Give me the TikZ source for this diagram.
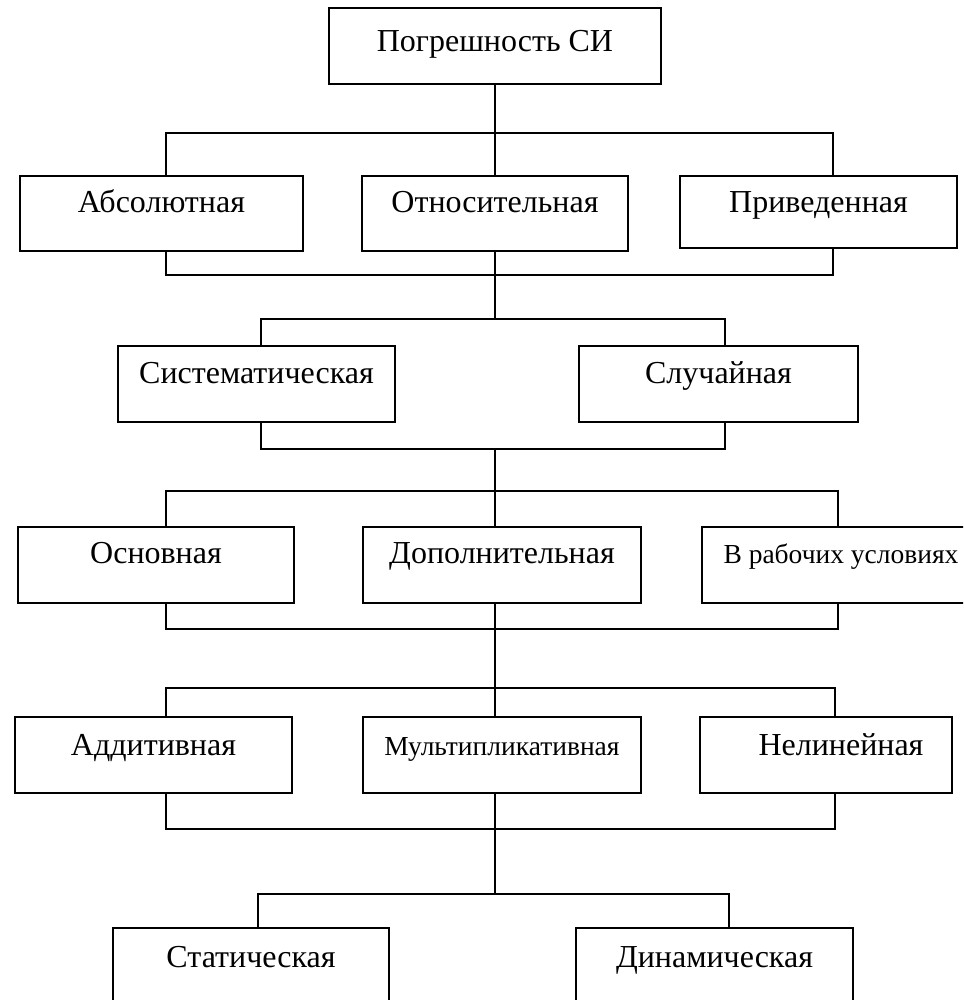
\documentclass[tikz,border=0pt]{standalone}
\usepackage{fontspec}
\setmainfont{Liberation Serif}
\begin{document}
\begin{tikzpicture}[x=1pt,y=-1pt,
  cbox/.style={draw, line width=1.6pt, inner sep=0pt, anchor=base,
    minimum width=#1, text height=37pt, text depth=38pt,
    font=\fontsize{32}{36}\selectfont},
  small/.style={font=\fontsize{27.5}{32}\selectfont},
  link/.style={line width=1.6pt}]
\useasboundingbox (0,0) rectangle (963,1000);
\clip (0,0) rectangle (963,1000);
\fill[white] (0,0) rectangle (963,1000);
% nodes
\node[cbox=332pt, text height=44pt, text depth=32pt] (top) at (495,52) {Погрешность СИ};
\node[cbox=283pt] (abs) at (161.5,213) {Абсолютная};
\node[cbox=266pt] (otn) at (495,213) {Относительная};
\node[cbox=277pt, text depth=35pt] (priv) at (818.5,213) {Приведенная};
\node[cbox=277pt, text depth=39pt] (sys) at (256.5,383) {Систематическая};
\node[cbox=279pt, text depth=39pt] (slu) at (718.5,383) {Случайная};
\node[cbox=276pt, text height=36pt, text depth=40pt] (osn) at (156,563) {Основная};
\node[cbox=278pt, text height=36pt, text depth=40pt] (dop) at (502,563) {Дополнительная};
\node[cbox=278pt, small, text height=36pt, text depth=40pt] (vrab) at (841,563) {В рабочих условиях};
\node[cbox=277pt, text height=38pt, text depth=38pt] (add) at (153.5,755) {Аддитивная};
\node[cbox=278pt, small, text height=38pt, text depth=38pt] (mult) at (502,755) {Мультипликативная};
\node[cbox=252pt, text height=38pt, text depth=38pt] (nel) at (826,755) {\hspace*{30pt}Нелинейная};
\node[cbox=276pt, text height=39pt, text depth=60pt] (stat) at (251,967) {Статическая};
\node[cbox=277pt, text height=39pt, text depth=60pt] (din) at (714.5,967) {Динамическая};
% bus coordinates
\coordinate (t1L) at (166,133); \coordinate (t1R) at (833,133);
\coordinate (b1L) at (166,275); \coordinate (b1R) at (833,275);
\coordinate (t2L) at (261,319); \coordinate (t2R) at (725,319); \coordinate (t2C) at (495,319);
\coordinate (b2L) at (261,449); \coordinate (b2R) at (725,449); \coordinate (b2C) at (495,449);
\coordinate (t3L) at (166,491); \coordinate (t3R) at (838,491);
\coordinate (b3L) at (166,629); \coordinate (b3R) at (838,629);
\coordinate (t4L) at (166,688); \coordinate (t4R) at (835,688); \coordinate (t4C) at (495,688);
\coordinate (b4L) at (166,829); \coordinate (b4R) at (835,829);
\coordinate (t5L) at (258,894); \coordinate (t5R) at (729,894); \coordinate (t5C) at (495,894);
% connectors
\draw[link] (top.south) -- (otn.north);
\draw[link] (abs.north -| t1L) |- (t1R) -- (priv.north -| t1R);
\draw[link] (abs.south -| b1L) |- (b1R) -- (priv.south -| b1R);
\draw[link] (otn.south) -- (t2C);
\draw[link] (sys.north -| t2L) |- (t2R) -- (slu.north -| t2R);
\draw[link] (sys.south -| b2L) |- (b2R) -- (slu.south -| b2R);
\draw[link] (b2C) -- (dop.north -| b2C);
\draw[link] (osn.north -| t3L) |- (t3R) -- (vrab.north -| t3R);
\draw[link] (osn.south -| b3L) |- (b3R) -- (vrab.south -| b3R);
\draw[link] (dop.south -| t4C) -- (mult.north -| t4C);
\draw[link] (add.north -| t4L) |- (t4R) -- (nel.north -| t4R);
\draw[link] (add.south -| b4L) |- (b4R) -- (nel.south -| b4R);
\draw[link] (mult.south -| t5C) -- (t5C);
\draw[link] (stat.north -| t5L) |- (t5R) -- (din.north -| t5R);
\end{tikzpicture}
\end{document}
